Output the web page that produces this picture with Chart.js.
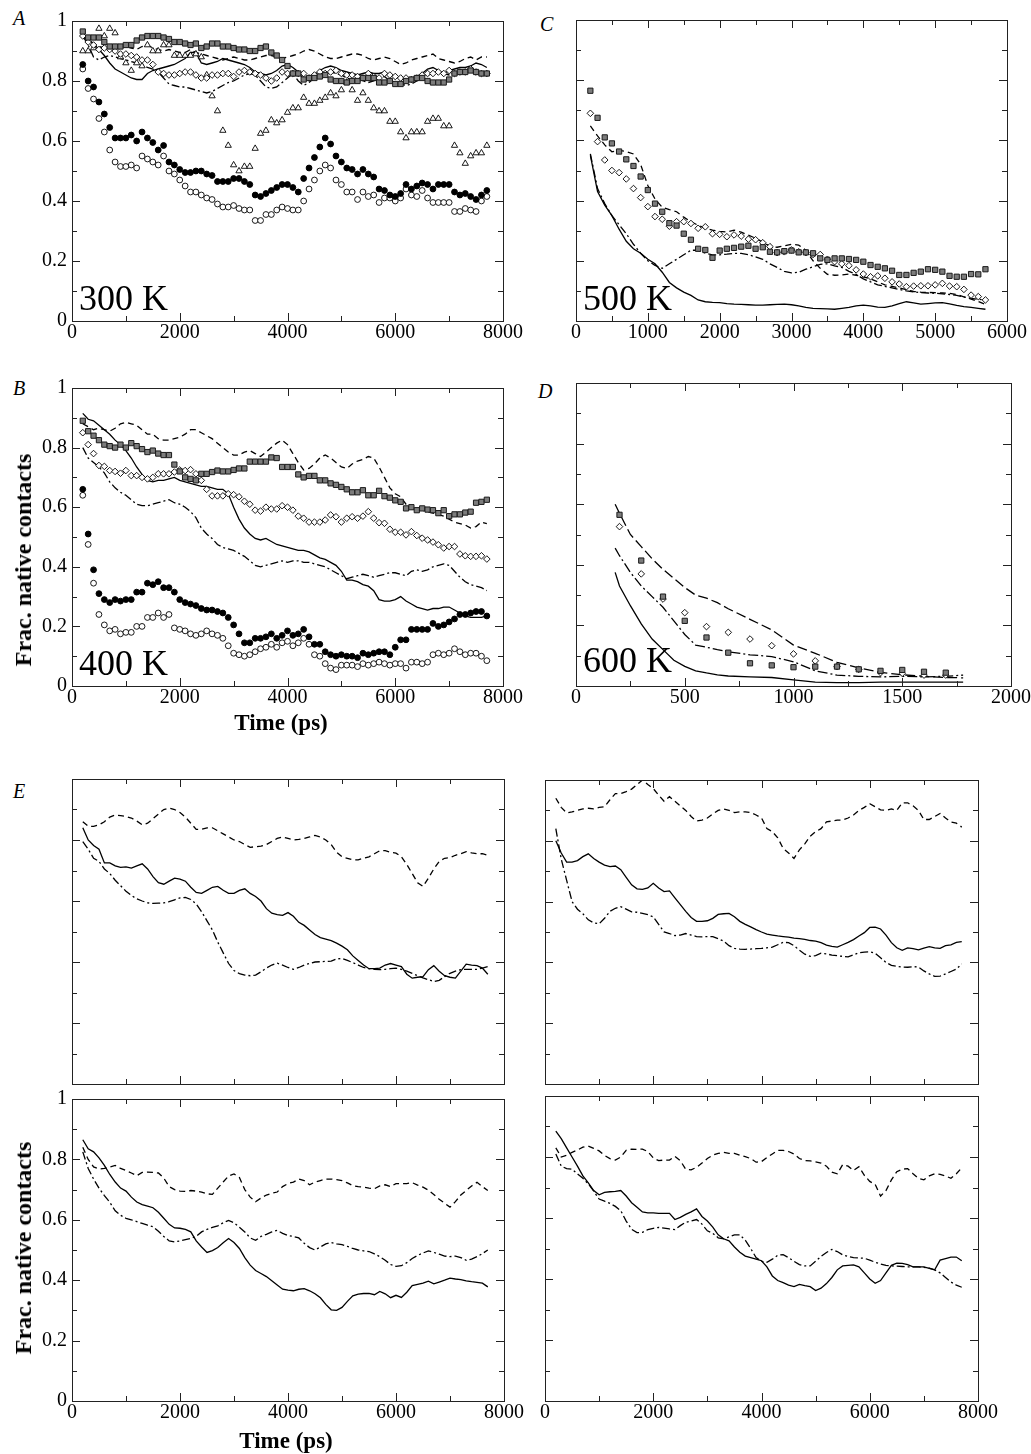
<!DOCTYPE html>
<html>
<head>
<meta charset="utf-8">
<script src="https://cdn.jsdelivr.net/npm/chart.js@4.4.1/dist/chart.umd.min.js"></script>
<style>
  body { margin: 0; background: #fff; width: 1031px; height: 1454px; position: relative; overflow: hidden;
         font-family: 'Liberation Serif', 'Times New Roman', serif; }
  canvas { position: absolute; }
  .txt { position: absolute; color: #000; white-space: nowrap; line-height: 1; }
  .letter { font-style: italic; font-size: 20px; }
  .temp { font-size: 36px; }
  .axt { font-weight: bold; font-size: 23px; }
  .rot { transform: translate(-50%, -50%) rotate(-90deg); font-weight: bold; font-size: 24px; }
</style>
</head>
<body>

<div class="txt letter" style="left:13px;top:8px">A</div>
<div class="txt letter" style="left:540px;top:14px">C</div>
<div class="txt letter" style="left:13px;top:378px">B</div>
<div class="txt letter" style="left:538px;top:381px">D</div>
<div class="txt letter" style="left:13px;top:781px">E</div>

<script>
// time axes (ps)
const TIME = [200,300,400,500,600,700,800,900,1000,1100,
  1200,1300,1400,1500,1600,1700,1800,1900,2000,2100,
  2200,2300,2400,2500,2600,2700,2800,2900,3000,3100,
  3200,3300,3400,3500,3600,3700,3800,3900,4000,4100,
  4200,4300,4400,4500,4600,4700,4800,4900,5000,5100,
  5200,5300,5400,5500,5600,5700,5800,5900,6000,6100,
  6200,6300,6400,6500,6600,6700,6800,6900,7000,7100,
  7200,7300,7400,7500,7600,7700];
const TIME_C = [200,300,400,500,600,700,800,900,1000,1100,
  1200,1300,1400,1500,1600,1700,1800,1900,2000,2100,
  2200,2300,2400,2500,2600,2700,2800,2900,3000,3100,
  3200,3300,3400,3500,3600,3700,3800,3900,4000,4100,
  4200,4300,4400,4500,4600,4700,4800,4900,5000,5100,
  5200,5300,5400,5500,5600,5700];
const TIME_D = [200,300,400,500,600,700,800,900,1000,1100,1200,1300,1400,1500,1600,1700];
const TIME_D_LINE = [180,200,250,300,350,400,450,500,550,600,650,700,800,900,1000,1100,1200,1300,1400,1500,1600,1700,1780];

// panel A, 300 K
const A_filled = [0.855,0.80,0.78,0.73,0.69,0.645,0.61,0.61,0.61,0.62,
  0.60,0.63,0.61,0.595,0.57,0.585,0.53,0.52,0.505,0.495,
  0.495,0.50,0.50,0.49,0.485,0.465,0.465,0.465,0.475,0.475,
  0.465,0.455,0.42,0.415,0.425,0.435,0.445,0.455,0.455,0.445,
  0.43,0.475,0.51,0.545,0.58,0.61,0.59,0.55,0.53,0.51,
  0.505,0.49,0.505,0.49,0.48,0.44,0.435,0.42,0.415,0.425,
  0.455,0.44,0.45,0.46,0.455,0.44,0.455,0.455,0.455,0.43,
  0.42,0.425,0.415,0.405,0.42,0.435];
const A_open = [0.84,0.775,0.74,0.675,0.63,0.57,0.53,0.515,0.515,0.52,
  0.51,0.55,0.54,0.53,0.52,0.55,0.50,0.49,0.47,0.45,
  0.43,0.43,0.42,0.41,0.405,0.39,0.38,0.38,0.385,0.375,
  0.37,0.37,0.335,0.335,0.355,0.355,0.37,0.38,0.375,0.37,
  0.37,0.40,0.44,0.47,0.50,0.52,0.51,0.47,0.455,0.43,
  0.43,0.405,0.43,0.415,0.42,0.395,0.41,0.41,0.40,0.41,
  0.44,0.42,0.415,0.435,0.41,0.395,0.395,0.395,0.395,0.365,
  0.365,0.375,0.37,0.365,0.40,0.415];
const A_tri = [0.90,0.90,0.91,0.975,0.95,0.975,0.96,0.88,0.86,0.835,
  0.86,0.85,0.92,0.90,0.90,0.92,0.92,0.885,0.885,0.885,
  0.885,0.89,0.88,0.82,0.75,0.70,0.635,0.585,0.52,0.50,
  0.515,0.515,0.575,0.625,0.635,0.67,0.66,0.67,0.695,0.71,
  0.71,0.745,0.725,0.725,0.735,0.745,0.76,0.75,0.77,0.795,
  0.77,0.735,0.76,0.735,0.71,0.70,0.70,0.665,0.665,0.63,
  0.61,0.63,0.63,0.63,0.665,0.675,0.675,0.65,0.65,0.585,
  0.56,0.525,0.55,0.56,0.56,0.585];
const A_square = [0.965,0.945,0.945,0.945,0.93,0.915,0.915,0.915,0.92,0.92,
  0.935,0.945,0.95,0.95,0.95,0.945,0.94,0.93,0.93,0.925,
  0.92,0.925,0.91,0.915,0.925,0.925,0.915,0.915,0.91,0.905,
  0.905,0.90,0.90,0.91,0.915,0.895,0.885,0.87,0.85,0.825,
  0.825,0.805,0.81,0.81,0.815,0.82,0.805,0.80,0.80,0.795,
  0.80,0.80,0.81,0.81,0.81,0.795,0.795,0.80,0.79,0.79,
  0.80,0.805,0.81,0.81,0.80,0.795,0.795,0.795,0.805,0.825,
  0.83,0.83,0.835,0.83,0.825,0.825];
const A_diamond = [0.95,0.93,0.92,0.905,0.91,0.905,0.90,0.89,0.89,0.885,
  0.88,0.87,0.87,0.855,0.83,0.825,0.82,0.82,0.825,0.83,
  0.83,0.82,0.81,0.81,0.82,0.82,0.825,0.825,0.815,0.83,
  0.835,0.83,0.825,0.82,0.81,0.80,0.81,0.83,0.825,0.825,
  0.825,0.825,0.81,0.82,0.83,0.825,0.83,0.835,0.825,0.82,
  0.82,0.815,0.81,0.825,0.815,0.81,0.825,0.82,0.815,0.81,
  0.81,0.805,0.81,0.82,0.825,0.825,0.83,0.825,0.835,0.825,
  0.83,0.83,0.84,0.83,0.825,0.825];
const A_solid = [0.95,0.935,0.925,0.905,0.885,0.86,0.84,0.83,0.82,0.81,
  0.805,0.805,0.825,0.835,0.84,0.845,0.85,0.855,0.865,0.875,
  0.895,0.895,0.86,0.855,0.86,0.865,0.875,0.87,0.865,0.86,
  0.855,0.845,0.83,0.825,0.82,0.825,0.835,0.85,0.855,0.845,
  0.83,0.805,0.815,0.82,0.835,0.845,0.85,0.845,0.835,0.83,
  0.825,0.82,0.825,0.83,0.825,0.825,0.83,0.82,0.815,0.81,
  0.80,0.81,0.815,0.825,0.84,0.845,0.835,0.825,0.835,0.84,
  0.845,0.845,0.85,0.86,0.855,0.845];
const A_dashed = [0.95,0.94,0.925,0.915,0.91,0.905,0.90,0.91,0.915,0.91,
  0.905,0.915,0.92,0.91,0.905,0.90,0.905,0.90,0.895,0.895,
  0.905,0.895,0.89,0.885,0.88,0.875,0.87,0.875,0.88,0.875,
  0.87,0.87,0.875,0.88,0.885,0.885,0.88,0.875,0.88,0.885,
  0.89,0.90,0.905,0.90,0.89,0.88,0.875,0.875,0.88,0.885,
  0.89,0.89,0.885,0.875,0.87,0.875,0.88,0.875,0.865,0.855,
  0.86,0.87,0.875,0.88,0.885,0.89,0.875,0.87,0.865,0.86,
  0.865,0.875,0.88,0.87,0.88,0.88];
const A_dashdot = [0.95,0.92,0.88,0.87,0.88,0.885,0.88,0.875,0.87,0.865,
  0.86,0.855,0.845,0.84,0.83,0.81,0.79,0.785,0.78,0.78,
  0.775,0.77,0.765,0.76,0.765,0.775,0.785,0.795,0.80,0.81,
  0.82,0.825,0.82,0.80,0.78,0.775,0.78,0.795,0.81,0.825,
  0.80,0.785,0.795,0.81,0.82,0.825,0.83,0.825,0.82,0.81,
  0.805,0.80,0.80,0.795,0.80,0.81,0.815,0.80,0.795,0.79,
  0.785,0.79,0.80,0.81,0.82,0.825,0.83,0.825,0.82,0.82,
  0.825,0.83,0.83,0.825,0.825,0.82];

// panel B, 400 K
const B_filled = [0.66,0.51,0.39,0.31,0.29,0.28,0.29,0.285,0.29,0.29,
  0.315,0.315,0.345,0.34,0.35,0.33,0.33,0.315,0.29,0.28,
  0.275,0.27,0.26,0.255,0.255,0.25,0.245,0.23,0.205,0.175,
  0.145,0.145,0.16,0.16,0.165,0.175,0.16,0.17,0.185,0.17,
  0.175,0.19,0.165,0.14,0.14,0.115,0.105,0.10,0.105,0.10,
  0.10,0.095,0.11,0.105,0.11,0.115,0.115,0.105,0.13,0.155,
  0.155,0.19,0.19,0.19,0.19,0.21,0.20,0.205,0.215,0.225,
  0.24,0.24,0.245,0.25,0.25,0.235];
const B_open = [0.64,0.475,0.345,0.24,0.205,0.185,0.19,0.175,0.18,0.18,
  0.20,0.20,0.23,0.23,0.245,0.23,0.24,0.195,0.19,0.185,
  0.175,0.17,0.175,0.185,0.175,0.17,0.16,0.135,0.11,0.105,
  0.10,0.105,0.115,0.125,0.13,0.14,0.13,0.145,0.15,0.135,
  0.145,0.16,0.14,0.105,0.10,0.075,0.06,0.055,0.07,0.07,
  0.07,0.065,0.075,0.07,0.075,0.08,0.075,0.07,0.075,0.075,
  0.06,0.08,0.08,0.075,0.08,0.105,0.11,0.105,0.11,0.125,
  0.115,0.105,0.11,0.11,0.10,0.085];
const B_square = [0.89,0.855,0.84,0.825,0.81,0.805,0.80,0.81,0.80,0.815,
  0.805,0.795,0.785,0.79,0.78,0.775,0.775,0.743,0.72,0.70,
  0.695,0.69,0.712,0.712,0.718,0.723,0.72,0.72,0.725,0.73,
  0.73,0.753,0.753,0.753,0.753,0.767,0.765,0.735,0.735,0.735,
  0.71,0.70,0.705,0.705,0.69,0.69,0.68,0.675,0.668,0.66,
  0.65,0.65,0.657,0.64,0.64,0.655,0.637,0.632,0.623,0.618,
  0.596,0.60,0.59,0.596,0.592,0.59,0.58,0.59,0.57,0.576,
  0.576,0.582,0.585,0.615,0.618,0.625];
const B_diamond = [0.85,0.81,0.78,0.74,0.737,0.723,0.72,0.714,0.723,0.706,
  0.706,0.70,0.695,0.70,0.712,0.712,0.712,0.718,0.725,0.723,
  0.726,0.712,0.69,0.66,0.638,0.638,0.638,0.645,0.642,0.635,
  0.62,0.61,0.59,0.587,0.60,0.594,0.594,0.605,0.60,0.59,
  0.57,0.563,0.55,0.55,0.55,0.557,0.574,0.568,0.55,0.563,
  0.568,0.563,0.57,0.585,0.563,0.548,0.546,0.526,0.516,0.516,
  0.507,0.518,0.505,0.496,0.49,0.483,0.474,0.463,0.468,0.468,
  0.443,0.437,0.435,0.435,0.437,0.426];
const B_solid = [0.915,0.895,0.89,0.875,0.86,0.845,0.825,0.81,0.79,0.765,
  0.735,0.71,0.69,0.685,0.69,0.69,0.695,0.70,0.69,0.685,
  0.68,0.675,0.67,0.67,0.665,0.66,0.66,0.645,0.60,0.56,
  0.53,0.51,0.495,0.49,0.495,0.485,0.475,0.47,0.465,0.46,
  0.455,0.455,0.45,0.44,0.43,0.425,0.415,0.405,0.385,0.355,
  0.355,0.35,0.34,0.335,0.32,0.29,0.285,0.285,0.29,0.30,
  0.285,0.275,0.265,0.26,0.255,0.26,0.26,0.265,0.265,0.255,
  0.245,0.235,0.23,0.23,0.23,0.235];
const B_dashed = [0.88,0.87,0.86,0.865,0.86,0.855,0.865,0.88,0.885,0.88,
  0.875,0.86,0.845,0.845,0.83,0.825,0.825,0.83,0.835,0.845,
  0.86,0.86,0.85,0.84,0.83,0.815,0.80,0.785,0.775,0.775,
  0.785,0.79,0.78,0.77,0.785,0.80,0.815,0.825,0.81,0.78,
  0.75,0.725,0.73,0.745,0.765,0.775,0.765,0.75,0.735,0.73,
  0.745,0.755,0.76,0.77,0.765,0.735,0.70,0.665,0.645,0.635,
  0.61,0.595,0.595,0.59,0.585,0.58,0.575,0.57,0.56,0.55,
  0.545,0.54,0.53,0.535,0.55,0.545];
const B_dashdot = [0.80,0.765,0.75,0.735,0.715,0.685,0.665,0.65,0.64,0.625,
  0.61,0.605,0.605,0.61,0.615,0.62,0.625,0.615,0.61,0.60,
  0.585,0.565,0.53,0.51,0.495,0.475,0.465,0.46,0.455,0.445,
  0.435,0.42,0.405,0.40,0.405,0.41,0.415,0.42,0.415,0.42,
  0.42,0.415,0.415,0.41,0.405,0.40,0.39,0.38,0.37,0.36,
  0.365,0.37,0.375,0.37,0.365,0.37,0.375,0.38,0.38,0.375,
  0.37,0.385,0.39,0.385,0.39,0.40,0.405,0.41,0.405,0.385,
  0.365,0.35,0.34,0.335,0.33,0.32];

// panel C, 500 K
const C_square = [0.765,0.675,0.61,0.59,0.563,0.537,0.515,0.48,0.435,0.39,
  0.363,0.325,0.317,0.29,0.27,0.24,0.236,0.21,0.234,0.24,
  0.243,0.247,0.25,0.24,0.245,0.23,0.228,0.232,0.234,0.228,
  0.228,0.225,0.208,0.203,0.208,0.208,0.206,0.203,0.197,0.186,
  0.18,0.175,0.167,0.153,0.153,0.16,0.164,0.172,0.17,0.164,
  0.15,0.147,0.147,0.156,0.155,0.172];
const C_diamond = [0.69,0.596,0.535,0.50,0.493,0.472,0.44,0.41,0.38,0.347,
  0.338,0.315,0.33,0.33,0.324,0.308,0.313,0.29,0.288,0.28,
  0.286,0.282,0.272,0.27,0.26,0.247,0.227,0.23,0.236,0.23,
  0.227,0.221,0.221,0.205,0.197,0.19,0.184,0.17,0.156,0.147,
  0.15,0.142,0.13,0.123,0.114,0.116,0.117,0.117,0.12,0.125,
  0.116,0.114,0.105,0.086,0.081,0.07];
const C_solid = [0.55,0.43,0.385,0.35,0.305,0.265,0.24,0.225,0.205,0.19,
  0.162,0.128,0.11,0.096,0.085,0.07,0.064,0.062,0.061,0.058,
  0.056,0.055,0.054,0.053,0.053,0.054,0.055,0.056,0.054,0.05,
  0.045,0.042,0.041,0.04,0.039,0.042,0.045,0.05,0.053,0.05,
  0.046,0.045,0.05,0.058,0.064,0.06,0.056,0.058,0.06,0.061,
  0.057,0.052,0.048,0.045,0.042,0.039];
const C_dashed = [0.648,0.615,0.585,0.562,0.567,0.563,0.555,0.52,0.45,0.405,
  0.378,0.37,0.363,0.345,0.33,0.318,0.308,0.302,0.298,0.296,
  0.302,0.295,0.285,0.275,0.262,0.248,0.245,0.25,0.255,0.252,
  0.235,0.20,0.175,0.155,0.152,0.153,0.156,0.152,0.147,0.14,
  0.13,0.12,0.115,0.11,0.104,0.098,0.096,0.095,0.094,0.093,
  0.092,0.088,0.08,0.073,0.065,0.055];
const C_dashdot = [0.555,0.44,0.39,0.35,0.32,0.29,0.255,0.225,0.20,0.185,
  0.175,0.19,0.205,0.22,0.235,0.235,0.225,0.22,0.22,0.222,
  0.225,0.225,0.22,0.213,0.205,0.19,0.178,0.165,0.16,0.162,
  0.172,0.18,0.188,0.19,0.183,0.178,0.165,0.155,0.14,0.13,
  0.12,0.115,0.11,0.105,0.10,0.097,0.094,0.093,0.092,0.09,
  0.088,0.085,0.08,0.075,0.072,0.07];

// panel D, 600 K
const D_square = [0.565,0.414,0.295,0.215,0.16,0.11,0.075,0.068,0.062,0.064,0.064,0.055,0.05,0.053,0.047,0.044];
const D_diamond = [0.526,0.37,0.287,0.242,0.196,0.177,0.155,0.133,0.106,0.083,0.064,0.055,0.044,0.042,0.036,0.036];
const D_dashed = [0.60,0.57,0.50,0.46,0.42,0.385,0.355,0.325,0.30,0.29,0.275,0.255,0.22,0.185,0.135,0.108,0.078,0.06,0.045,0.037,0.032,0.028,0.027];
const D_dashdot = [0.455,0.43,0.375,0.33,0.295,0.26,0.215,0.17,0.135,0.128,0.12,0.113,0.103,0.097,0.08,0.05,0.036,0.032,0.03,0.032,0.03,0.032,0.036];
const D_solid = [0.375,0.33,0.265,0.205,0.155,0.12,0.085,0.065,0.05,0.043,0.037,0.033,0.03,0.028,0.02,0.013,0.011,0.011,0.013,0.013,0.013,0.013,0.013];

// panel E, four runs
const E1_dashed = [0.86,0.845,0.845,0.85,0.86,0.875,0.882,0.88,0.877,0.872,
  0.862,0.85,0.855,0.87,0.885,0.9,0.905,0.9,0.89,0.875,
  0.855,0.835,0.835,0.84,0.84,0.83,0.82,0.81,0.8,0.795,
  0.785,0.776,0.778,0.78,0.785,0.795,0.805,0.81,0.805,0.8,
  0.802,0.805,0.81,0.815,0.81,0.8,0.785,0.76,0.745,0.74,
  0.735,0.735,0.74,0.745,0.755,0.765,0.765,0.76,0.757,0.745,
  0.72,0.69,0.66,0.648,0.675,0.705,0.73,0.74,0.742,0.75,
  0.755,0.762,0.758,0.755,0.755,0.75];
const E1_solid = [0.84,0.80,0.782,0.77,0.725,0.725,0.715,0.71,0.712,0.708,
  0.715,0.722,0.705,0.68,0.66,0.655,0.665,0.675,0.672,0.665,
  0.645,0.628,0.625,0.635,0.645,0.648,0.635,0.625,0.625,0.635,
  0.64,0.625,0.615,0.6,0.575,0.56,0.555,0.553,0.562,0.55,
  0.53,0.52,0.505,0.49,0.48,0.475,0.47,0.462,0.452,0.44,
  0.42,0.405,0.39,0.378,0.378,0.38,0.39,0.395,0.39,0.385,
  0.36,0.347,0.35,0.352,0.375,0.388,0.37,0.355,0.35,0.347,
  0.37,0.393,0.39,0.388,0.38,0.36];
const E1_dashdot = [0.795,0.77,0.74,0.73,0.705,0.69,0.668,0.65,0.632,0.618,
  0.607,0.6,0.594,0.592,0.593,0.594,0.598,0.604,0.61,0.612,
  0.605,0.59,0.565,0.535,0.505,0.465,0.43,0.395,0.372,0.362,
  0.357,0.355,0.357,0.368,0.38,0.39,0.396,0.39,0.382,0.376,
  0.382,0.39,0.395,0.4,0.401,0.402,0.403,0.41,0.412,0.405,
  0.398,0.39,0.382,0.378,0.376,0.375,0.376,0.378,0.38,0.376,
  0.37,0.363,0.355,0.348,0.342,0.336,0.34,0.352,0.363,0.37,
  0.375,0.376,0.376,0.376,0.38,0.385];
const E2_dashed = [0.94,0.91,0.892,0.895,0.9,0.905,0.907,0.905,0.91,0.912,
  0.935,0.955,0.955,0.962,0.97,0.985,1.0,0.985,0.972,0.95,
  0.93,0.945,0.93,0.915,0.9,0.88,0.865,0.868,0.875,0.888,
  0.9,0.905,0.9,0.893,0.895,0.895,0.893,0.885,0.875,0.84,
  0.83,0.81,0.775,0.76,0.742,0.77,0.79,0.815,0.83,0.84,
  0.862,0.865,0.868,0.868,0.875,0.885,0.9,0.91,0.922,0.912,
  0.902,0.9,0.905,0.9,0.925,0.925,0.915,0.9,0.87,0.87,
  0.88,0.89,0.875,0.862,0.858,0.845];
const E2_solid = [0.8,0.76,0.73,0.73,0.735,0.748,0.757,0.742,0.73,0.72,
  0.715,0.717,0.705,0.68,0.655,0.642,0.64,0.645,0.66,0.645,
  0.633,0.635,0.612,0.59,0.568,0.548,0.535,0.535,0.537,0.545,
  0.558,0.56,0.561,0.55,0.535,0.525,0.517,0.508,0.5,0.493,
  0.49,0.487,0.485,0.483,0.48,0.478,0.476,0.472,0.47,0.465,
  0.457,0.453,0.45,0.458,0.466,0.475,0.487,0.498,0.515,0.516,
  0.51,0.49,0.465,0.448,0.44,0.448,0.445,0.441,0.447,0.452,
  0.448,0.446,0.455,0.458,0.466,0.468];
const E2_dashdot = [0.84,0.74,0.67,0.6,0.575,0.56,0.54,0.53,0.527,0.545,
  0.568,0.578,0.583,0.575,0.566,0.565,0.561,0.557,0.55,0.525,
  0.5,0.495,0.488,0.49,0.495,0.49,0.485,0.484,0.485,0.485,
  0.478,0.47,0.455,0.446,0.444,0.443,0.444,0.445,0.446,0.448,
  0.45,0.458,0.466,0.465,0.455,0.44,0.427,0.42,0.422,0.43,
  0.428,0.424,0.422,0.42,0.418,0.425,0.432,0.434,0.435,0.43,
  0.415,0.4,0.39,0.387,0.385,0.384,0.386,0.385,0.372,0.362,
  0.354,0.355,0.362,0.37,0.378,0.395];
const E3_solid = [0.865,0.835,0.825,0.805,0.78,0.75,0.725,0.705,0.695,0.675,
  0.659,0.65,0.645,0.64,0.625,0.605,0.585,0.573,0.572,0.568,
  0.56,0.53,0.51,0.492,0.498,0.508,0.524,0.538,0.525,0.505,
  0.475,0.45,0.432,0.422,0.412,0.398,0.384,0.37,0.367,0.365,
  0.37,0.372,0.365,0.355,0.342,0.32,0.302,0.3,0.31,0.33,
  0.348,0.354,0.356,0.356,0.352,0.363,0.355,0.342,0.35,0.343,
  0.36,0.382,0.386,0.39,0.397,0.388,0.394,0.4,0.407,0.404,
  0.402,0.398,0.395,0.393,0.39,0.378];
const E3_dashed = [0.84,0.8,0.775,0.768,0.77,0.775,0.78,0.77,0.763,0.755,
  0.746,0.757,0.758,0.757,0.755,0.738,0.71,0.7,0.695,0.694,
  0.697,0.695,0.692,0.686,0.684,0.705,0.725,0.745,0.752,0.74,
  0.7,0.675,0.66,0.672,0.682,0.688,0.692,0.71,0.72,0.725,
  0.735,0.73,0.716,0.725,0.73,0.735,0.735,0.733,0.73,0.722,
  0.713,0.71,0.708,0.705,0.703,0.712,0.716,0.71,0.72,0.72,
  0.72,0.723,0.715,0.708,0.698,0.684,0.668,0.655,0.642,0.66,
  0.682,0.697,0.712,0.724,0.71,0.697];
const E3_dashdot = [0.825,0.77,0.735,0.705,0.68,0.658,0.63,0.615,0.605,0.6,
  0.594,0.588,0.582,0.577,0.562,0.545,0.53,0.527,0.53,0.534,
  0.538,0.545,0.56,0.568,0.575,0.58,0.59,0.598,0.59,0.575,
  0.56,0.54,0.532,0.545,0.552,0.56,0.565,0.555,0.548,0.545,
  0.54,0.522,0.508,0.5,0.51,0.52,0.525,0.52,0.518,0.512,
  0.505,0.5,0.497,0.495,0.487,0.478,0.466,0.452,0.446,0.448,
  0.458,0.472,0.482,0.49,0.497,0.492,0.486,0.48,0.478,0.48,
  0.475,0.466,0.47,0.478,0.488,0.5];
const E4_solid = [0.885,0.86,0.83,0.8,0.77,0.738,0.715,0.69,0.676,0.684,
  0.686,0.687,0.69,0.672,0.65,0.635,0.62,0.617,0.617,0.615,
  0.615,0.615,0.595,0.602,0.612,0.62,0.63,0.605,0.59,0.57,
  0.545,0.532,0.525,0.505,0.488,0.475,0.47,0.465,0.46,0.44,
  0.41,0.395,0.388,0.38,0.375,0.382,0.378,0.375,0.362,0.37,
  0.385,0.405,0.43,0.443,0.445,0.446,0.44,0.42,0.4,0.386,
  0.395,0.42,0.445,0.452,0.451,0.447,0.44,0.44,0.44,0.435,
  0.43,0.462,0.467,0.472,0.472,0.46];
const E4_dashed = [0.83,0.8,0.806,0.815,0.823,0.832,0.836,0.828,0.82,0.805,
  0.795,0.79,0.8,0.822,0.826,0.825,0.826,0.818,0.797,0.788,
  0.79,0.79,0.802,0.788,0.76,0.758,0.766,0.78,0.795,0.806,
  0.812,0.815,0.812,0.812,0.806,0.801,0.795,0.783,0.785,0.798,
  0.81,0.822,0.822,0.818,0.81,0.795,0.788,0.787,0.784,0.78,
  0.77,0.75,0.745,0.775,0.77,0.756,0.768,0.74,0.72,0.71,
  0.672,0.69,0.725,0.752,0.76,0.762,0.745,0.73,0.725,0.738,
  0.745,0.743,0.738,0.73,0.745,0.765];
const E4_dashdot = [0.81,0.77,0.762,0.76,0.745,0.73,0.712,0.688,0.662,0.655,
  0.648,0.638,0.624,0.59,0.563,0.552,0.553,0.562,0.566,0.569,
  0.567,0.564,0.562,0.575,0.586,0.59,0.595,0.58,0.558,0.55,
  0.535,0.532,0.538,0.545,0.545,0.527,0.5,0.47,0.458,0.455,
  0.465,0.478,0.48,0.47,0.458,0.447,0.443,0.443,0.458,0.474,
  0.487,0.497,0.49,0.479,0.474,0.47,0.469,0.468,0.462,0.455,
  0.449,0.445,0.443,0.442,0.441,0.44,0.44,0.44,0.438,0.436,
  0.43,0.42,0.405,0.39,0.38,0.373];

const PAD_L = 60, PAD_T = 14, PAD_R = 32, PAD_B = 32;
const SERIF = "'Liberation Serif', 'Times New Roman', serif";

const DASHED = [6, 4];
const DASHDOT = [8, 3, 2, 3];
const LONGDASH = [10, 4];
const LONGDASHDOT = [10, 3, 2, 3];

function xy(xs, ys) {
  return xs.map((x, i) => ({ x: x, y: ys[i] }));
}

function line(xs, ys, dash) {
  return { data: xy(xs, ys), showLine: true, borderColor: '#000', borderWidth: 1.3,
    borderDash: dash || [], pointRadius: 0, fill: false, tension: 0 };
}

const MARKS = {
  square:  { pointStyle: 'rect', pointRadius: 3.7, pointBackgroundColor: '#7c7c7c', pointBorderColor: '#1a1a1a', pointBorderWidth: 1 },
  diamond: { pointStyle: 'rectRot', pointRadius: 3.3, pointBackgroundColor: '#fff', pointBorderColor: '#000', pointBorderWidth: 0.9 },
  tri:     { pointStyle: 'triangle', pointRadius: 3.6, pointBackgroundColor: '#fff', pointBorderColor: '#000', pointBorderWidth: 0.9 },
  filled:  { pointStyle: 'circle', pointRadius: 2.9, pointBackgroundColor: '#000', pointBorderColor: '#000', pointBorderWidth: 1 },
  open:    { pointStyle: 'circle', pointRadius: 2.9, pointBackgroundColor: '#fff', pointBorderColor: '#000', pointBorderWidth: 0.9 }
};

function marks(xs, ys, kind) {
  return Object.assign({ data: xy(xs, ys), showLine: false }, MARKS[kind]);
}

// inward ticks on all four sides plus the frame
const frameTicks = {
  id: 'frameTicks',
  afterDatasetsDraw(chart, args, o) {
    const { ctx, chartArea: a } = chart;
    const sx = chart.scales.x, sy = chart.scales.y;
    ctx.save();
    ctx.strokeStyle = '#222';
    ctx.lineWidth = 1;
    ctx.beginPath();
    const nx = Math.round(sx.max / o.xMinor);
    for (let k = 1; k < nx; k++) {
      const px = Math.round(sx.getPixelForValue(k * o.xMinor)) + 0.5;
      const len = (k * o.xMinor) % o.xMajor === 0 ? 8 : 5;
      ctx.moveTo(px, a.bottom); ctx.lineTo(px, a.bottom - len);
      ctx.moveTo(px, a.top); ctx.lineTo(px, a.top + len);
    }
    for (let k = 1; k < 10; k++) {
      const py = Math.round(sy.getPixelForValue(k / 10)) + 0.5;
      const len = k % 2 === 0 ? 8 : 5;
      ctx.moveTo(a.left, py); ctx.lineTo(a.left + len, py);
      ctx.moveTo(a.right, py); ctx.lineTo(a.right - len, py);
    }
    ctx.stroke();
    ctx.strokeRect(a.left + 0.5, a.top + 0.5, a.right - a.left, a.bottom - a.top);
    ctx.restore();
  }
};

function makePanel(p) {
  const w = p.box[2] - p.box[0], h = p.box[3] - p.box[1];
  const cv = document.createElement('canvas');
  cv.width = w + PAD_L + PAD_R;
  cv.height = h + PAD_T + PAD_B;
  cv.style.left = (p.box[0] - PAD_L) + 'px';
  cv.style.top = (p.box[1] - PAD_T) + 'px';
  document.body.appendChild(cv);

  const tickFont = { family: SERIF, size: 20 };
  new Chart(cv, {
    type: 'scatter',
    data: { datasets: p.datasets },
    options: {
      responsive: false,
      animation: false,
      devicePixelRatio: 1,
      layout: { padding: { left: 0, top: PAD_T, right: PAD_R, bottom: 0 }, autoPadding: false },
      plugins: {
        legend: { display: false },
        tooltip: { enabled: false },
        frameTicks: { xMajor: p.xMajor, xMinor: p.xMajor / 2 }
      },
      scales: {
        x: {
          type: 'linear', min: 0, max: p.xMax,
          grid: { display: false, drawTicks: false },
          border: { display: false },
          ticks: { display: p.xLabels, stepSize: p.xMajor, autoSkip: false, maxRotation: 0,
                   padding: 0, color: '#000', font: tickFont, callback: v => String(v) },
          afterFit: s => { s.height = PAD_B; }
        },
        y: {
          type: 'linear', min: 0, max: 1,
          grid: { display: false, drawTicks: false },
          border: { display: false },
          ticks: { display: p.yLabels, stepSize: 0.2, autoSkip: false, padding: 5,
                   color: '#000', font: tickFont, callback: v => String(+v.toFixed(1)) },
          afterFit: s => { s.width = PAD_L; }
        }
      }
    },
    plugins: [frameTicks]
  });
}

const PANELS = [
  { box: [72, 18, 503, 321], xMax: 8000, xMajor: 2000, xLabels: true, yLabels: true, datasets: [
      marks(TIME, A_square, 'square'), marks(TIME, A_diamond, 'diamond'), marks(TIME, A_tri, 'tri'),
      marks(TIME, A_filled, 'filled'), marks(TIME, A_open, 'open'),
      line(TIME, A_solid), line(TIME, A_dashed, DASHED), line(TIME, A_dashdot, DASHDOT)] },
  { box: [576, 20, 1007, 321], xMax: 6000, xMajor: 1000, xLabels: true, yLabels: false, datasets: [
      marks(TIME_C, C_square, 'square'), marks(TIME_C, C_diamond, 'diamond'),
      line(TIME_C, C_solid), line(TIME_C, C_dashed, DASHED), line(TIME_C, C_dashdot, DASHDOT)] },
  { box: [72, 385, 503, 686], xMax: 8000, xMajor: 2000, xLabels: true, yLabels: true, datasets: [
      marks(TIME, B_square, 'square'), marks(TIME, B_diamond, 'diamond'),
      marks(TIME, B_filled, 'filled'), marks(TIME, B_open, 'open'),
      line(TIME, B_solid), line(TIME, B_dashed, DASHED), line(TIME, B_dashdot, DASHDOT)] },
  { box: [576, 383, 1011, 686], xMax: 2000, xMajor: 500, xLabels: true, yLabels: false, datasets: [
      marks(TIME_D, D_square, 'square'), marks(TIME_D, D_diamond, 'diamond'),
      line(TIME_D_LINE, D_solid), line(TIME_D_LINE, D_dashed, LONGDASH), line(TIME_D_LINE, D_dashdot, LONGDASHDOT)] },
  { box: [72, 779, 504, 1084], xMax: 8000, xMajor: 2000, xLabels: false, yLabels: false, datasets: [
      line(TIME, E1_solid), line(TIME, E1_dashed, DASHED), line(TIME, E1_dashdot, DASHDOT)] },
  { box: [545, 780, 978, 1084], xMax: 8000, xMajor: 2000, xLabels: false, yLabels: false, datasets: [
      line(TIME, E2_solid), line(TIME, E2_dashed, DASHED), line(TIME, E2_dashdot, DASHDOT)] },
  { box: [72, 1096, 504, 1401], xMax: 8000, xMajor: 2000, xLabels: true, yLabels: true, datasets: [
      line(TIME, E3_solid), line(TIME, E3_dashed, DASHED), line(TIME, E3_dashdot, DASHDOT)] },
  { box: [545, 1096, 978, 1401], xMax: 8000, xMajor: 2000, xLabels: true, yLabels: false, datasets: [
      line(TIME, E4_solid), line(TIME, E4_dashed, DASHED), line(TIME, E4_dashdot, DASHDOT)] }
];

PANELS.forEach(makePanel);
</script>

<div class="txt temp" style="left:79px;top:280px">300 K</div>
<div class="txt temp" style="left:79px;top:645px">400 K</div>
<div class="txt temp" style="left:583px;top:280px">500 K</div>
<div class="txt temp" style="left:583px;top:642px">600 K</div>

<div class="txt rot" style="left:23px;top:560px">Frac. native contacts</div>
<div class="txt rot" style="left:23px;top:1248px">Frac. native contacts</div>
<div class="txt axt" style="left:281px;top:711px;transform:translateX(-50%)">Time (ps)</div>
<div class="txt axt" style="left:286px;top:1429px;transform:translateX(-50%)">Time (ps)</div>

</body>
</html>
